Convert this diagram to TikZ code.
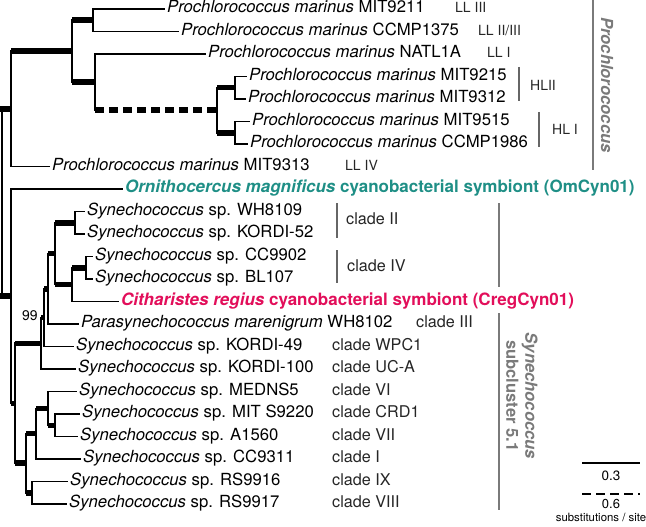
\documentclass[tikz,border=0pt]{standalone}
\usepackage{fontspec}
\setmainfont{TeX Gyre Heros}
\definecolor{tealc}{HTML}{1F8F86}
\definecolor{crim}{HTML}{E20E5A}
\definecolor{lab}{HTML}{7A7A7A}
\definecolor{brk}{HTML}{666666}
\begin{document}
\begin{tikzpicture}[x=1pt,y=-1pt,
  br/.style={line width=1.7pt, line cap=rect},
  thk/.style={line width=5.5pt, line cap=butt},
  dsh/.style={line width=5.5pt, line cap=butt, dash pattern=on 9pt off 5pt},
  fnt/.style={font=\fontsize{16.7}{18}\selectfont},
  leaf/.style={anchor=west, inner xsep=3pt, inner ysep=0pt, text height=0.72em, text depth=0pt, fnt},
  bleaf/.style={leaf, font=\fontsize{17}{18}\selectfont\bfseries},
  clab/.style={anchor=west, inner sep=0pt, text height=0.72em, text depth=0pt, text=black!85, font=\fontsize{16.2}{18}\selectfont},
  llab/.style={anchor=west, inner sep=0pt, text height=0.72em, text depth=0pt, text=black!85, font=\fontsize{14}{16}\selectfont},
  bkt/.style={line width=1.6pt, draw=brk},
  bigbkt/.style={line width=2pt, draw=lab},
  glab/.style={text=lab, align=center, rotate=-90, inner sep=0pt, font=\fontsize{16.6}{19}\selectfont\bfseries}
]
\useasboundingbox (0,0) rectangle (646,527);

% ---------- internal nodes ----------
\coordinate (root) at (2,202.5);
\coordinate (P1) at (11,108.9);
\coordinate (P2) at (72,51.2);
\coordinate (P3) at (93,20.25);
\coordinate (P4) at (95,82.1);
\coordinate (P5) at (217,110.25);
\coordinate (P6) at (235,87.75);
\coordinate (P7) at (235,132.75);
\coordinate (A) at (11,296.1);
\coordinate (B) at (15,403.3);
\coordinate (C) at (41,343.3);
\coordinate (Q) at (44,317.7);
\coordinate (N) at (48,288.8);
\coordinate (J) at (55,253.7);
\coordinate (M) at (75,222.75);
\coordinate (K) at (72,284.6);
\coordinate (L) at (86,267.75);
\coordinate (D) at (26,463.2);
\coordinate (E) at (36,433.7);
\coordinate (G) at (48,408.4);
\coordinate (H) at (55,425.25);
\coordinate (F) at (32,492.75);

% ---------- leaves ----------
\node[leaf] (l1) at (164,9) {\textit{Prochlorococcus marinus} MIT9211};
\node[leaf] (l2) at (178,31.5) {\textit{Prochlorococcus marinus} CCMP1375};
\node[leaf] (l3) at (205,54) {\textit{Prochlorococcus marinus} NATL1A};
\node[leaf] (l4) at (246,76.5) {\textit{Prochlorococcus marinus} MIT9215};
\node[leaf] (l5) at (245,99) {\textit{Prochlorococcus marinus} MIT9312};
\node[leaf] (l6) at (249,121.5) {\textit{Prochlorococcus marinus} MIT9515};
\node[leaf] (l7) at (247,144) {\textit{Prochlorococcus marinus} CCMP1986};
\node[leaf] (l8) at (49,166.5) {\textit{Prochlorococcus marinus} MIT9313};
\node[bleaf, text=tealc] (l9) at (122,189) {\textit{Ornithocercus magnificus} cyanobacterial symbiont (OmCyn01)};
\node[leaf] (l10) at (84,211.5) {\textit{Synechococcus} sp. WH8109};
\node[leaf] (l11) at (84,234) {\textit{Synechococcus} sp. KORDI-52};
\node[leaf] (l12) at (92,256.5) {\textit{Synechococcus} sp. CC9902};
\node[leaf] (l13) at (92,279) {\textit{Synechococcus} sp. BL107};
\node[bleaf, text=crim] (l14) at (118,301.5) {\textit{Citharistes regius} cyanobacterial symbiont (CregCyn01)};
\node[leaf] (l15) at (78,324) {\textit{Parasynechococcus marenigrum} WH8102};
\node[leaf] (l16) at (73,346.5) {\textit{Synechococcus} sp. KORDI-49};
\node[leaf] (l17) at (75,369) {\textit{Synechococcus} sp. KORDI-100};
\node[leaf] (l18) at (76,391.5) {\textit{Synechococcus} sp. MEDNS5};
\node[leaf] (l19) at (79,414) {\textit{Synechococcus} sp. MIT S9220};
\node[leaf] (l20) at (77,436.5) {\textit{Synechococcus} sp. A1560};
\node[leaf] (l21) at (80,459) {\textit{Synechococcus} sp. CC9311};
\node[leaf] (l22) at (67,481.5) {\textit{Synechococcus} sp. RS9916};
\node[leaf] (l23) at (66,504) {\textit{Synechococcus} sp. RS9917};

% ---------- verticals ----------
\draw[br] (root |- P1) -- (root |- A);
\draw[br] (P1 |- P2) -- (P1 |- l8.west);
\draw[br] (P2 |- P3) -- (P2 |- P4);
\draw[br] (P3 |- l1.west) -- (P3 |- l2.west);
\draw[br] (P4 |- l3.west) -- (P4 |- P5);
\draw[br] (P5 |- P6) -- (P5 |- P7);
\draw[br] (P6 |- l4.west) -- (P6 |- l5.west);
\draw[br] (P7 |- l6.west) -- (P7 |- l7.west);
\draw[br] (A |- l9.west) -- (A |- B);
\draw[br] (B |- C) -- (B |- D);
\draw[br] (C |- Q) -- (C |- l17.west);
\draw[br] (Q |- N) -- (Q |- l16.west);
\draw[br] (N |- J) -- (N |- l15.west);
\draw[br] (J |- M) -- (J |- K);
\draw[br] (M |- l10.west) -- (M |- l11.west);
\draw[br] (K |- L) -- (K |- l14.west);
\draw[br] (L |- l12.west) -- (L |- l13.west);
\draw[br] (D |- E) -- (D |- F);
\draw[br] (E |- G) -- (E |- l21.west);
\draw[br] (G |- l18.west) -- (G |- H);
\draw[br] (H |- l19.west) -- (H |- l20.west);
\draw[br] (F |- l22.west) -- (F |- l23.west);

% ---------- thick internal branches ----------
\draw[thk] (0,108.9) -- (P1);
\draw[thk] (0,296.1) -- (A);
\draw[thk] (P1 |- P2) -- (P2);
\draw[thk] (P2 |- P3) -- (P3);
\draw[thk] (P2 |- P4) -- (P4);
\draw[dsh] (P4 |- P5) -- (P5);
\draw[thk] (P5 |- P6) -- (P6);
\draw[thk] (P5 |- P7) -- (P7);
\draw[thk] (A |- B) -- (B);
\draw[thk] (B |- C) -- (C);
\draw[thk] (C |- Q) -- (Q);
\draw[thk] (Q |- N) -- (N);
\draw[thk] (N |- J) -- (J);
\draw[thk] (J |- M) -- (M);
\draw[thk] (J |- K) -- (K);
\draw[thk] (K |- L) -- (L);
\draw[thk] (B |- D) -- (D);
\draw[thk] (D |- E) -- (E);
\draw[thk] (E |- G) -- (G);
\draw[thk] (G |- H) -- (H);
\draw[thk] (D |- F) -- (F);

% ---------- leaf branches ----------
\draw[br] (P3 |- l1.west) -- (l1.west);
\draw[br] (P3 |- l2.west) -- (l2.west);
\draw[br] (P4 |- l3.west) -- (l3.west);
\draw[br] (P6 |- l4.west) -- (l4.west);
\draw[br] (P6 |- l5.west) -- (l5.west);
\draw[br] (P7 |- l6.west) -- (l6.west);
\draw[br] (P7 |- l7.west) -- (l7.west);
\draw[br] (P1 |- l8.west) -- (l8.west);
\draw[br] (A |- l9.west) -- (l9.west);
\draw[br] (M |- l10.west) -- (l10.west);
\draw[br] (M |- l11.west) -- (l11.west);
\draw[br] (L |- l12.west) -- (l12.west);
\draw[br] (L |- l13.west) -- (l13.west);
\draw[br] (K |- l14.west) -- (l14.west);
\draw[br] (N |- l15.west) -- (l15.west);
\draw[br] (Q |- l16.west) -- (l16.west);
\draw[br] (C |- l17.west) -- (l17.west);
\draw[br] (G |- l18.west) -- (l18.west);
\draw[br] (H |- l19.west) -- (l19.west);
\draw[br] (H |- l20.west) -- (l20.west);
\draw[br] (E |- l21.west) -- (l21.west);
\draw[br] (F |- l22.west) -- (l22.west);
\draw[br] (F |- l23.west) -- (l23.west);

% bootstrap
\node[font=\fontsize{14}{16}\selectfont, inner sep=0pt] (bs) at (30,316) {99};

% ---------- Prochlorococcus labels ----------
\node[llab] (ll3) at (455,9) {LL III};
\node[llab] (ll23) at (478,31.5) {LL II/III};
\node[llab] (ll1) at (487,54) {LL I};
\coordinate (hb1) at (519,67);
\coordinate (hb2) at (519,101);
\draw[bkt] (hb1) -- (hb2);
\node[llab] (hl2) at (530,87) {HLII};
\coordinate (hc1) at (539,112);
\coordinate (hc2) at (539,147);
\draw[bkt] (hc1) -- (hc2);
\node[llab] (hl1) at (552,131) {HL I};
\node[llab] (ll4) at (345,166.5) {LL IV};
\coordinate (pb1) at (593,0);
\coordinate (pb2) at (593,170);
\draw[bigbkt] (pb1) -- (pb2);
\node[glab] (pro) at (607,85) {\textit{Prochlorococcus}};

% ---------- Synechococcus labels ----------
\coordinate (c2a) at (337,203);
\coordinate (c2b) at (337,238);
\draw[bkt] (c2a) -- (c2b);
\node[clab] (cl2) at (346,220.5) {clade II};
\coordinate (c4a) at (337,250);
\coordinate (c4b) at (337,283);
\draw[bkt] (c4a) -- (c4b);
\node[clab] (cl4) at (347,268) {clade IV};
\node[clab] (cl3) at (416,324) {clade III};
\node[clab] (clw) at (332,346.5) {clade WPC1};
\node[clab] (clu) at (332,369) {clade UC-A};
\node[clab] (cl6) at (332,391.5) {clade VI};
\node[clab] (clc) at (332,414) {clade CRD1};
\node[clab] (cl7) at (332,436.5) {clade VII};
\node[clab] (cl1) at (332,459) {clade I};
\node[clab] (cl9) at (332,481.5) {clade IX};
\node[clab] (cl8) at (332,504) {clade VIII};
\coordinate (sb1) at (499,203);
\coordinate (sb2) at (499,287);
\coordinate (sb3) at (499,313);
\coordinate (sb4) at (499,510);
\draw[bigbkt] (sb1) -- (sb2);
\draw[bigbkt] (sb3) -- (sb4);
\node[glab] (syn) at (522,396) {\textit{Synechococcus}\\subcluster 5.1};

% ---------- scale bars ----------
\coordinate (s1) at (582,463);
\coordinate (s2) at (640,463);
\draw[line width=1.6pt] (s1) -- (s2);
\node[font=\fontsize{13.5}{15}\selectfont, inner sep=0pt] (s03) at (611,476) {0.3};
\coordinate (d1) at (582,494);
\coordinate (d2) at (640,494);
\draw[line width=1.8pt, dash pattern=on 9pt off 5pt] (d1) -- (d2);
\node[font=\fontsize{13}{15}\selectfont, inner sep=0pt, anchor=base] (s06) at (611,508) {0.6};
\node[font=\fontsize{11.4}{13}\selectfont, inner sep=0pt, anchor=base] (sub) at (601,521) {substitutions / site};
\end{tikzpicture}
\end{document}
